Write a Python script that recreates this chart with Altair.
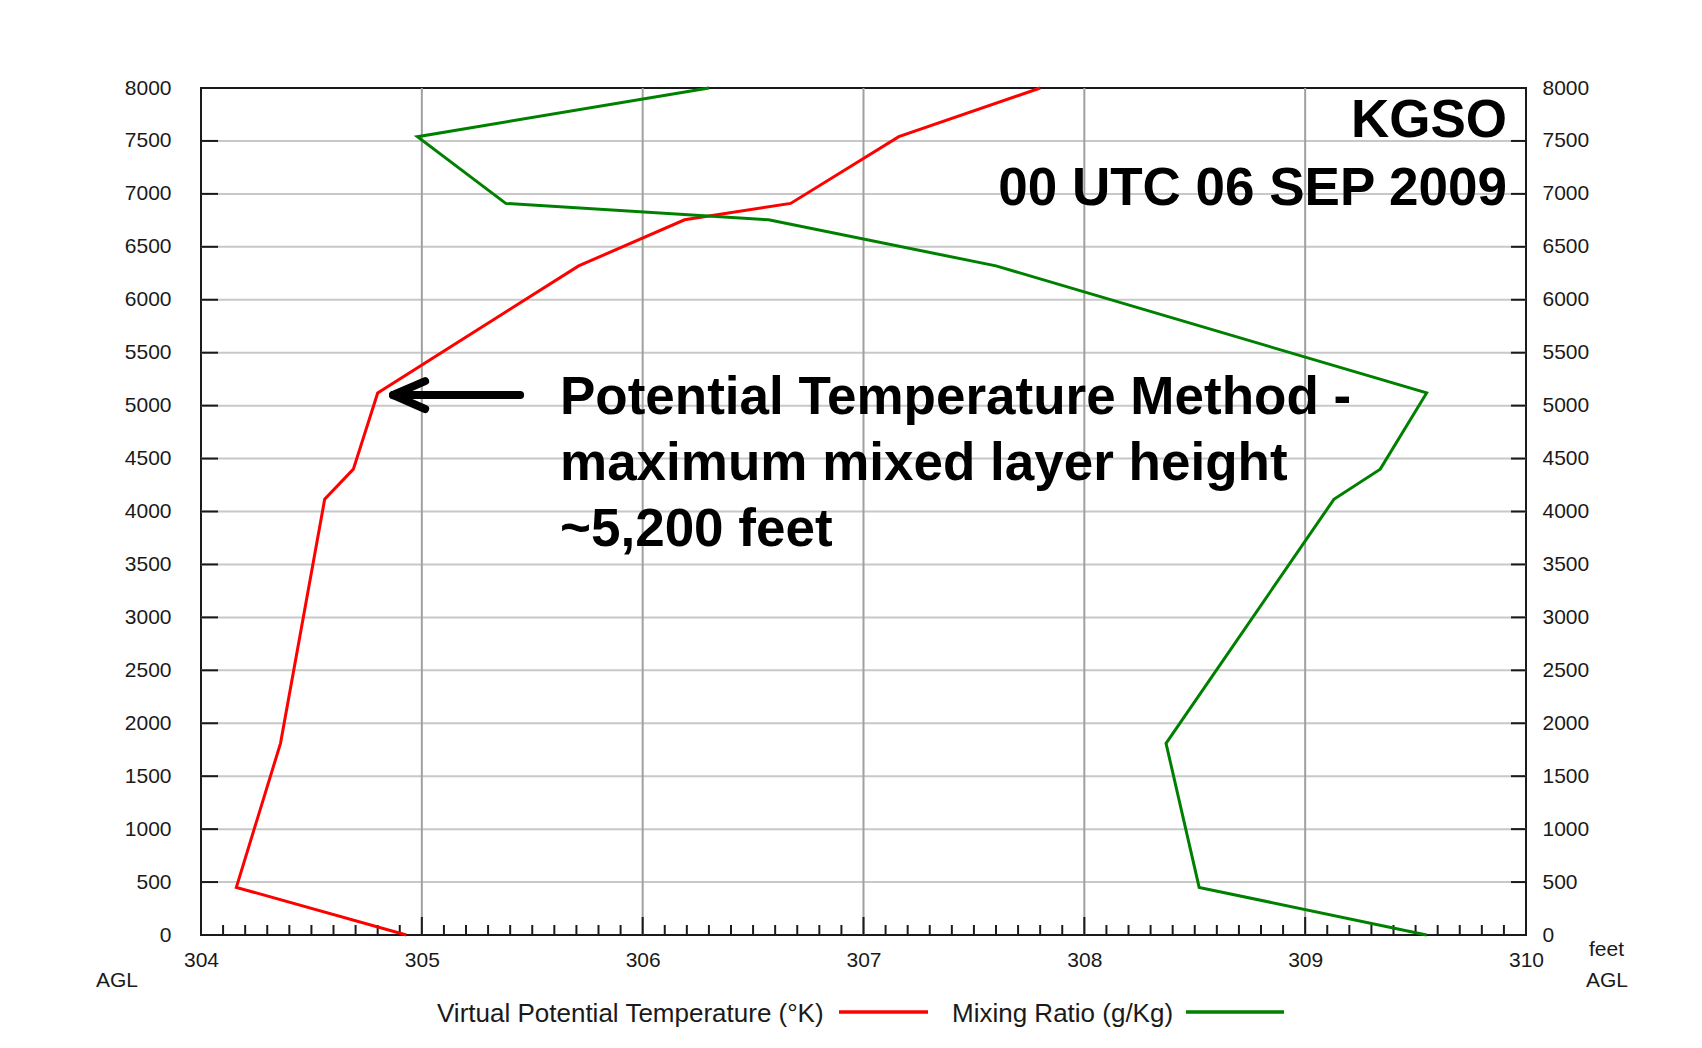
import altair as alt
import pandas as pd

# ---------------- data ----------------
heights = [0, 450, 1810, 4115, 4400, 5120, 6320, 6755, 6910, 7540, 8000]          # feet AGL
virtual_theta = [304.93, 304.16, 304.36, 304.56, 304.69, 304.80, 305.71, 306.19, 306.67, 307.16, 307.80]
mixing_ratio = [309.55, 308.52, 308.37, 309.13, 309.34, 309.55, 307.60, 306.57, 305.38, 304.98, 306.30]

x_labels = [304, 305, 306, 307, 308, 309, 310]
y_labels = [0, 500, 1000, 1500, 2000, 2500, 3000, 3500, 4000, 4500, 5000,
            5500, 6000, 6500, 7000, 7500, 8000]
x_minor = [round(304 + i / 10, 1) for i in range(1, 60) if i % 10 != 0]

title_lines = ["KGSO", "00 UTC 06 SEP 2009"]
annot_lines = ["Potential Temperature Method -", "maximum mixed layer height", "~5,200 feet"]
legend_labels = ["Virtual Potential Temperature (\u00b0K)", "Mixing Ratio (g/Kg)"]

# arrow pointing at the top of the mixed layer (data coordinates)
arrow_x = [304.87, 304.87, 304.87]
arrow_x2 = [305.445, 305.015, 305.015]
arrow_y = [5100, 5100, 5100]
arrow_y2 = [5100, 5232, 4968]

# ---------------- layout ----------------
W, H = 1325, 847
FONT = "Liberation Sans, Arial, Helvetica, sans-serif"
INK = "#1a1a1a"

xscale = alt.Scale(domain=[304, 310], nice=False, zero=False)
yscale = alt.Scale(domain=[0, 8000], nice=False, zero=False)

df = pd.DataFrame({"h": heights, "thv": virtual_theta, "mr": mixing_ratio})

x_axis = alt.Axis(orient="bottom", values=x_labels, ticks=False, domain=False, grid=False,
                  title=None, labelFont=FONT, labelFontSize=21, labelColor=INK,
                  labelPadding=14, labelFlush=False, labelOverlap=False, format="d")
left_axis = alt.Axis(orient="left", values=y_labels, ticks=False, domain=False, grid=False,
                     title=None, labelFont=FONT, labelFontSize=21, labelColor=INK,
                     labelPadding=30, labelFlush=False, labelOverlap=False, format="d")
right_axis = alt.Axis(orient="right", values=y_labels, ticks=False, domain=False, grid=False,
                      title=None, labelFont=FONT, labelFontSize=21, labelColor=INK,
                      labelPadding=16, labelFlush=False, labelOverlap=False, format="d")

hgrid = alt.Chart(pd.DataFrame({"h": y_labels[1:-1]})).mark_rule(
    color="#c8c8c8", strokeWidth=2).encode(
    y=alt.Y("h:Q", scale=yscale, axis=left_axis))

vgrid = alt.Chart(pd.DataFrame({"x": x_labels[1:-1]})).mark_rule(
    color="#a0a0a0", strokeWidth=2).encode(
    x=alt.X("x:Q", scale=xscale, axis=x_axis))

left_ticks = alt.Chart(pd.DataFrame({"h": y_labels})).mark_rule(
    color=INK, strokeWidth=2).encode(
    y=alt.Y("h:Q", scale=yscale, axis=None), x=alt.value(0), x2=alt.value(17))

right_ticks = alt.Chart(pd.DataFrame({"h": y_labels})).mark_rule(
    color=INK, strokeWidth=2).encode(
    y=alt.Y("h:Q", scale=yscale, axis=right_axis), x=alt.value(W - 15), x2=alt.value(W))

minor_ticks = alt.Chart(pd.DataFrame({"x": x_minor})).mark_rule(
    color=INK, strokeWidth=2).encode(
    x=alt.X("x:Q", scale=xscale, axis=None), y=alt.value(H - 10), y2=alt.value(H))

major_ticks = alt.Chart(pd.DataFrame({"x": x_labels})).mark_rule(
    color=INK, strokeWidth=2).encode(
    x=alt.X("x:Q", scale=xscale, axis=None), y=alt.value(H - 18), y2=alt.value(H))

red_line = alt.Chart(df).mark_line(color="#ff0000", strokeWidth=3).encode(
    x=alt.X("thv:Q", scale=xscale, axis=None),
    y=alt.Y("h:Q", scale=yscale, axis=None),
    order="h:Q")

green_line = alt.Chart(df).mark_line(color="#008000", strokeWidth=3).encode(
    x=alt.X("mr:Q", scale=xscale, axis=None),
    y=alt.Y("h:Q", scale=yscale, axis=None),
    order="h:Q")

arrow = alt.Chart(pd.DataFrame({"x": arrow_x, "x2": arrow_x2, "y": arrow_y, "y2": arrow_y2})).mark_rule(
    color="black", strokeWidth=8, strokeCap="round").encode(
    x=alt.X("x:Q", scale=xscale, axis=None), x2="x2:Q",
    y=alt.Y("y:Q", scale=yscale, axis=None), y2="y2:Q")


def txt(s, x, y, size, bold=False, align="left", color="black"):
    return alt.Chart(alt.Data(values=[{"t": s}])).mark_text(
        align=align, baseline="alphabetic", fontSize=size, font=FONT,
        fontWeight="bold" if bold else "normal", color=color).encode(
        x=alt.value(x), y=alt.value(y), text="t:N")


def seg(x1, x2, y, color):
    return alt.Chart(alt.Data(values=[{"a": 1}])).mark_rule(
        color=color, strokeWidth=3.5).encode(
        x=alt.value(x1), x2=alt.value(x2), y=alt.value(y))


texts = [
    txt(title_lines[0], 1306, 49, 53, bold=True, align="right"),
    txt(title_lines[1], 1306, 117, 53, bold=True, align="right"),
    txt(annot_lines[0], 359, 326, 53, bold=True),
    txt(annot_lines[1], 359, 392, 53, bold=True),
    txt(annot_lines[2], 359, 458, 53, bold=True),
    txt("AGL", -105, 899, 21, color=INK),
    txt("feet", 1388, 868, 21, color=INK),
    txt("AGL", 1385, 899, 21, color=INK),
    txt(legend_labels[0], 236, 934, 26, color=INK),
    txt(legend_labels[1], 751, 934, 26, color=INK),
    seg(638, 727, 924, "#ff0000"),
    seg(985, 1083, 924, "#008000"),
]

chart = alt.layer(
    hgrid, vgrid, left_ticks, right_ticks, minor_ticks, major_ticks,
    red_line, green_line, arrow, *texts
).resolve_axis(x="independent", y="independent").properties(
    width=W, height=H,
    padding={"left": 193, "top": 80, "right": 160, "bottom": 100},
    autosize=alt.AutoSizeParams(type="none"),
    background="white",
).configure_view(stroke=INK, strokeWidth=2)

chart.save("out.html", embed_options={"renderer": "svg", "actions": False})
